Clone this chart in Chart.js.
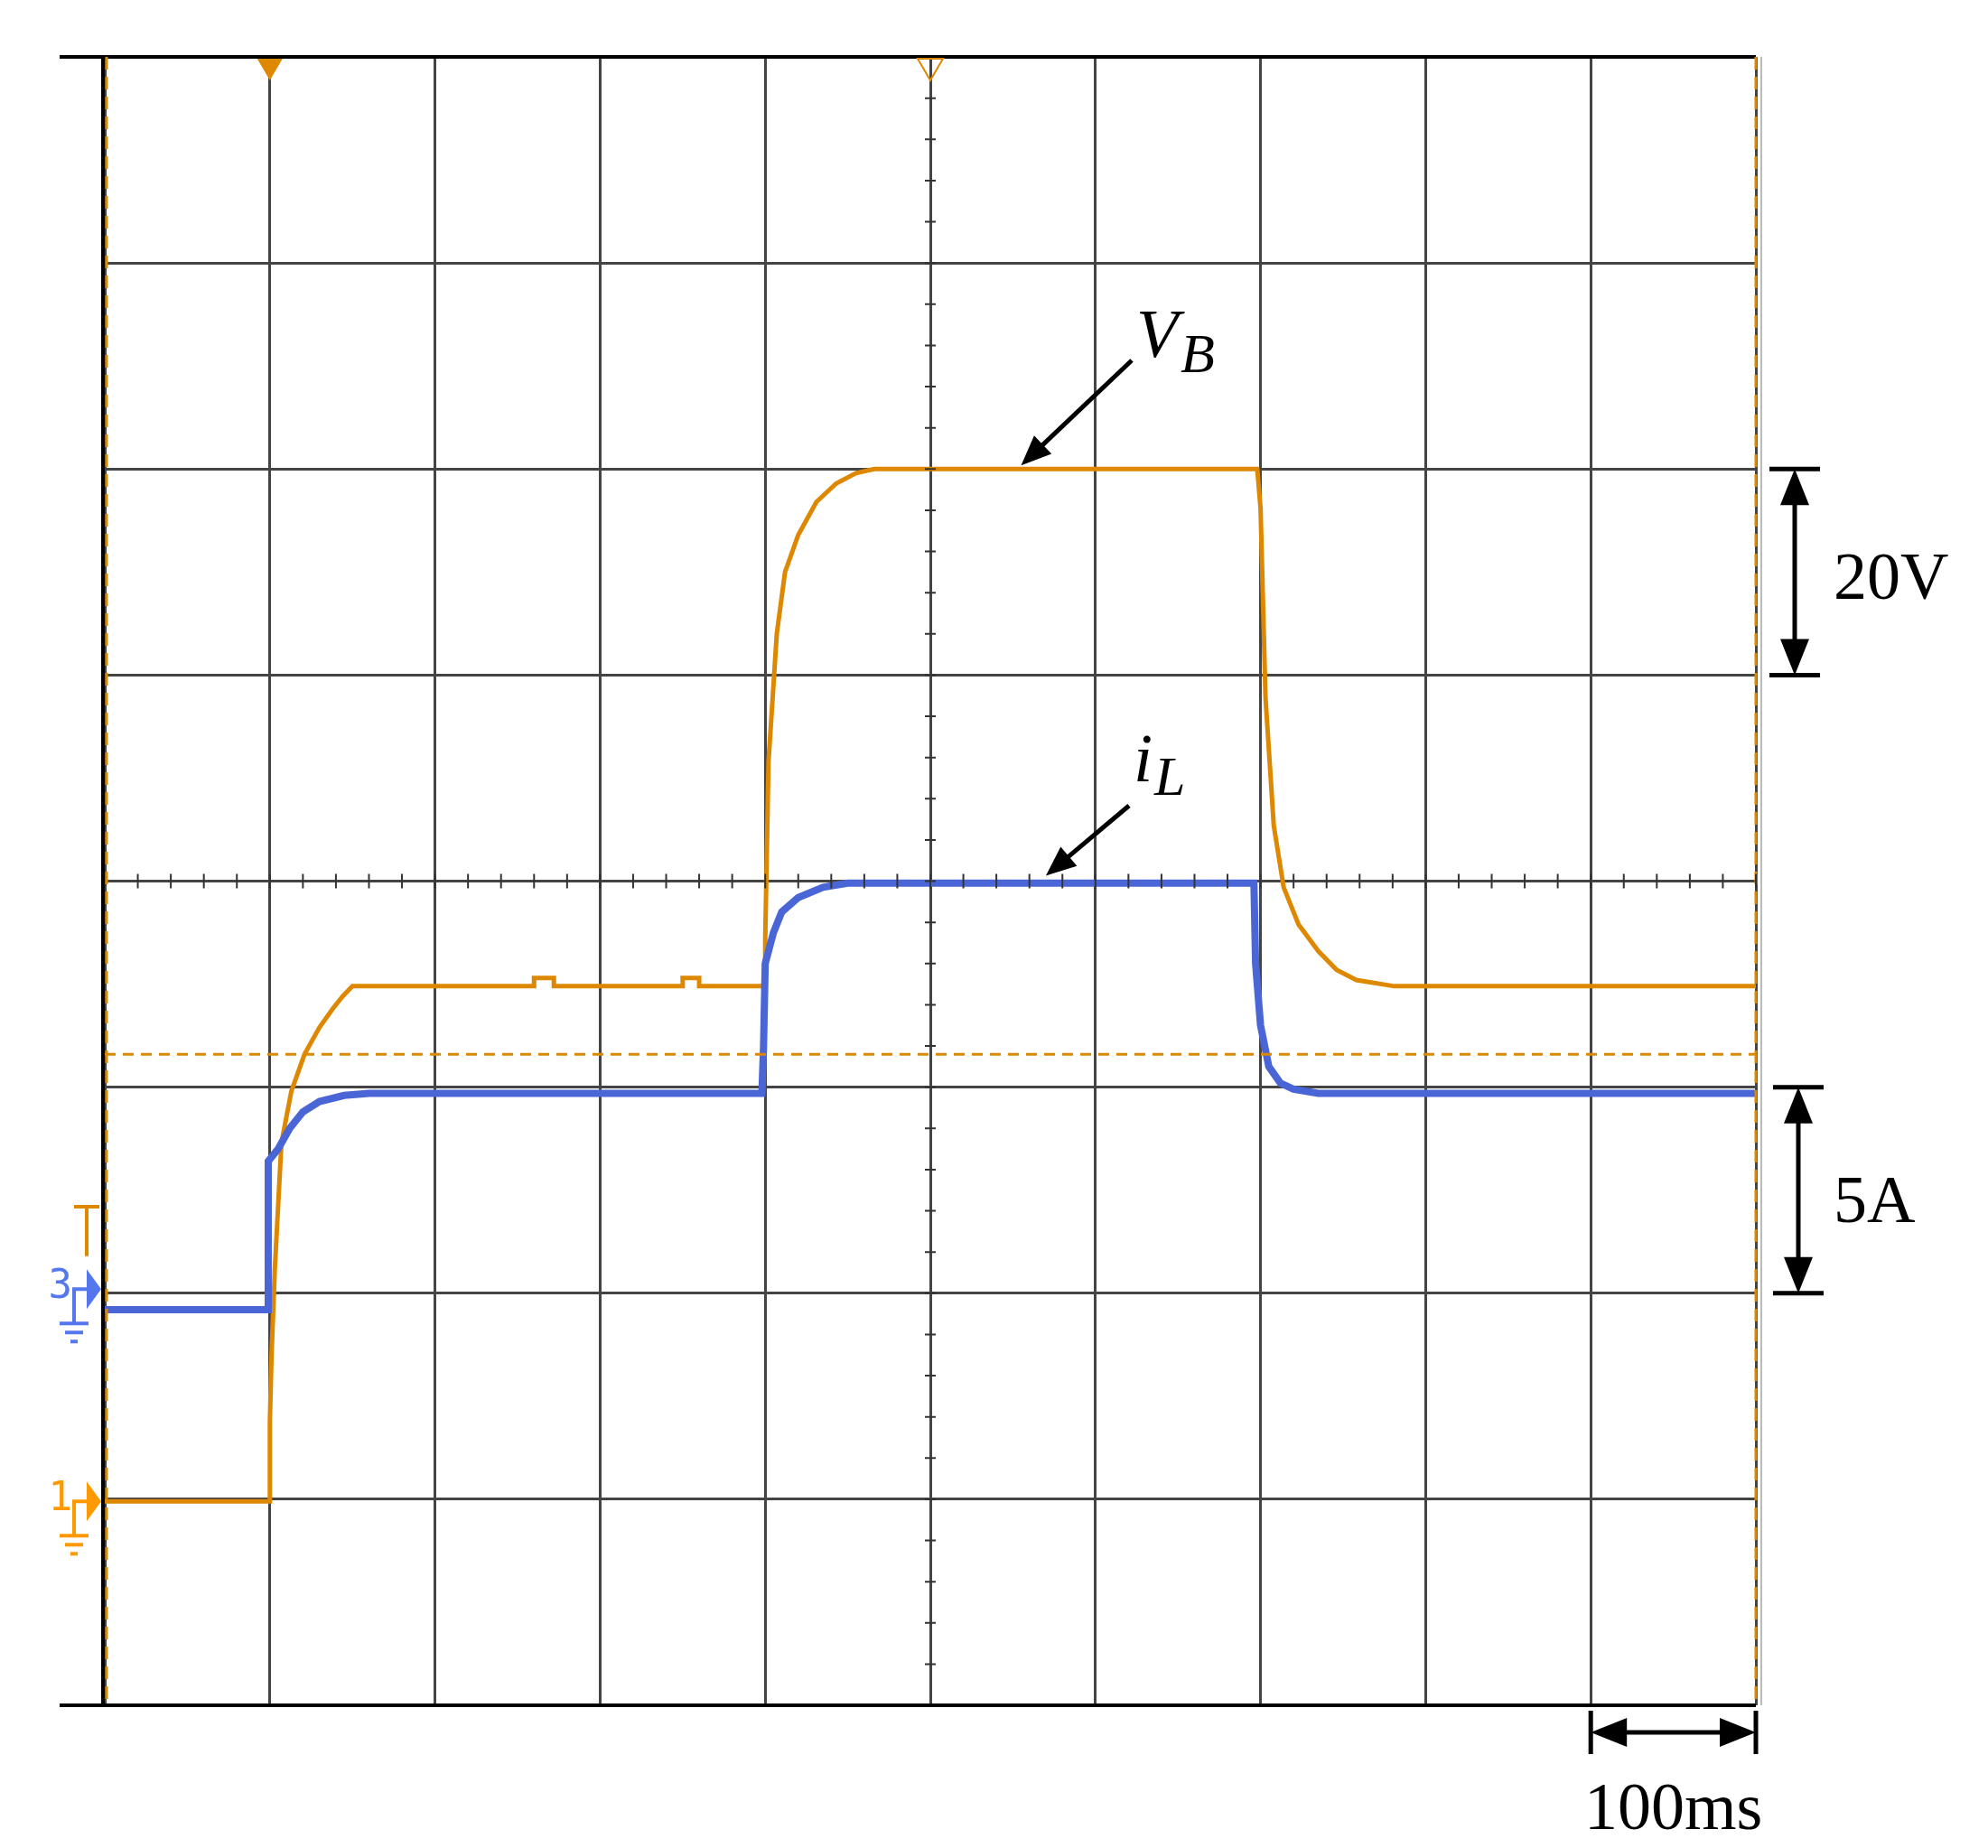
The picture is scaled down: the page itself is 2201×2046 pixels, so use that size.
<!DOCTYPE html>
<html>
<head>
<meta charset="utf-8">
<script src="https://cdn.jsdelivr.net/npm/chart.js@4/dist/chart.umd.min.js"></script>
<style>
  body { margin: 0; background: #fff; }
  #wrap { width: 2201px; height: 2046px; }
</style>
</head>
<body>
<div id="wrap"><canvas id="scope"></canvas></div>
<script>
// time in divisions (100 ms/div), amplitude in divisions from the bottom of the screen
var vbTime = [0, 1.0, 1.0, 1.01, 1.03, 1.07, 1.13, 1.21, 1.3, 1.38, 1.44, 1.5, 2.6, 2.6, 2.72, 2.72, 3.5, 3.5, 3.6, 3.6, 4.0, 4.0,
  4.02, 4.07, 4.12, 4.2, 4.31, 4.43, 4.55, 4.66, 6.98, 7.0, 7.03, 7.08, 7.14, 7.23, 7.35, 7.46, 7.58, 7.81, 10];
var vbLevel = [0.99, 0.99, 1.38, 1.7, 2.12, 2.73, 2.98, 3.16, 3.29, 3.38, 3.44, 3.49, 3.49, 3.53, 3.53, 3.49, 3.49, 3.53, 3.53, 3.49, 3.49, 3.72,
  4.58, 5.2, 5.5, 5.68, 5.84, 5.93, 5.98, 6.0, 6.0, 5.81, 4.89, 4.27, 3.97, 3.79, 3.66, 3.57, 3.52, 3.49, 3.49];

var ilTime = [0, 0.99, 0.99, 1.05, 1.12, 1.2, 1.3, 1.45, 1.6, 3.98, 3.99, 4.0, 4.05, 4.1, 4.2, 4.35, 4.5, 6.96,
  6.97, 7.0, 7.05, 7.12, 7.2, 7.35, 10];
var ilLevel = [1.92, 1.92, 2.64, 2.7, 2.8, 2.88, 2.93, 2.96, 2.97, 2.97, 3.2, 3.6, 3.75, 3.85, 3.92, 3.97, 3.99, 3.99,
  3.6, 3.3, 3.1, 3.02, 2.99, 2.97, 2.97];

var triggerLevel = 3.16;
var xDivs = 10, yDivs = 8;

function pts(xs, ys) { return xs.map(function (x, i) { return { x: x, y: ys[i] }; }); }

var ORANGE = '#dd8800', BLUE = '#4a66d6';

var overlay = {
  id: 'overlay',
  afterDraw: function (chart) {
    var c = chart.ctx, xs = chart.scales.x, ys = chart.scales.y;
    var X = function (v) { return xs.getPixelForValue(v); };
    var Y = function (v) { return ys.getPixelForValue(v); };
    c.save();
    // frame
    c.strokeStyle = '#000'; c.lineWidth = 4;
    c.beginPath();
    c.moveTo(66, Y(8)); c.lineTo(X(10), Y(8));
    c.moveTo(66, Y(0)); c.lineTo(X(10), Y(0));
    c.moveTo(X(0) - 2, Y(8)); c.lineTo(X(0) - 2, Y(0));
    c.stroke();
    c.strokeStyle = '#bbb'; c.lineWidth = 2;
    c.beginPath(); c.moveTo(X(10) + 6, Y(8)); c.lineTo(X(10) + 6, Y(0)); c.stroke();
    // orange dashed edges
    c.strokeStyle = ORANGE; c.lineWidth = 3; c.setLineDash([14, 8]);
    c.beginPath();
    c.moveTo(X(0) + 2, Y(8)); c.lineTo(X(0) + 2, Y(0));
    c.moveTo(X(10), Y(8)); c.lineTo(X(10), Y(0));
    c.stroke();
    c.setLineDash([]);
    // centre minor ticks
    c.strokeStyle = '#333'; c.lineWidth = 2;
    c.beginPath();
    for (var t = 0.2; t < xDivs; t += 0.2) {
      c.moveTo(X(t), Y(4) - 8); c.lineTo(X(t), Y(4) + 8);
    }
    for (var u = 0.2; u < yDivs; u += 0.2) {
      c.moveTo(X(5) - 6, Y(u)); c.lineTo(X(5) + 6, Y(u));
    }
    c.stroke();
    // trigger markers at top
    c.fillStyle = ORANGE; c.strokeStyle = ORANGE; c.lineWidth = 2;
    c.beginPath(); c.moveTo(X(1) - 14, Y(8) + 2); c.lineTo(X(1) + 14, Y(8) + 2); c.lineTo(X(1), Y(8) + 26); c.closePath(); c.fill();
    c.beginPath(); c.moveTo(X(5) - 14, Y(8) + 2); c.lineTo(X(5) + 14, Y(8) + 2); c.lineTo(X(5), Y(8) + 26); c.closePath(); c.stroke();
    // channel markers
    function marker(lv, col, label) {
      var y = Y(lv), x = X(0) - 4;
      c.fillStyle = col; c.strokeStyle = col; c.lineWidth = 4;
      c.beginPath(); c.moveTo(x - 16, y - 22); c.lineTo(x, y); c.lineTo(x - 16, y + 22); c.closePath(); c.fill();
      c.beginPath(); c.moveTo(x - 14, y); c.lineTo(x - 30, y); c.lineTo(x - 30, y + 38);
      c.moveTo(x - 46, y + 38); c.lineTo(x - 14, y + 38);
      c.moveTo(x - 40, y + 48); c.lineTo(x - 20, y + 48);
      c.moveTo(x - 34, y + 58); c.lineTo(x - 26, y + 58);
      c.stroke();
      c.font = '44px "DejaVu Sans Mono"'; c.textAlign = 'right'; c.textBaseline = 'middle';
      c.fillText(label, x - 32, y - 2);
    }
    marker(2.02, '#5577ee', '3');
    marker(0.99, '#ff9900', '1');
    c.strokeStyle = ORANGE; c.lineWidth = 4;
    c.beginPath(); c.moveTo(X(0) - 20, Y(2.18)); c.lineTo(X(0) - 20, Y(2.42));
    c.moveTo(X(0) - 34, Y(2.42)); c.lineTo(X(0) - 6, Y(2.42)); c.stroke();
    // trigger level dashed
    c.strokeStyle = ORANGE; c.lineWidth = 3; c.setLineDash([12, 8]);
    c.beginPath(); c.moveTo(X(0), Y(triggerLevel)); c.lineTo(X(10), Y(triggerLevel)); c.stroke();
    c.setLineDash([]);
    // arrows
    function arrow(x1, y1, x2, y2) {
      c.strokeStyle = '#000'; c.fillStyle = '#000'; c.lineWidth = 5;
      var a = Math.atan2(y2 - y1, x2 - x1), L = 36, w = 0.4;
      c.beginPath(); c.moveTo(x1, y1); c.lineTo(x2 - Math.cos(a) * L * 0.8, y2 - Math.sin(a) * L * 0.8); c.stroke();
      c.beginPath(); c.moveTo(x2, y2);
      c.lineTo(x2 - L * Math.cos(a - w), y2 - L * Math.sin(a - w));
      c.lineTo(x2 - L * Math.cos(a + w), y2 - L * Math.sin(a + w)); c.closePath(); c.fill();
    }
    arrow(1253, 399, X(5.55), Y(6.0) - 4);
    arrow(1250, 892, X(5.7), Y(4.0) - 6);
    // labels
    c.fillStyle = '#000'; c.textAlign = 'left'; c.textBaseline = 'alphabetic';
    c.font = 'italic 76px "Liberation Serif"';
    c.fillText('V', 1258, 395);
    c.fillText('i', 1255, 865);
    c.font = 'italic 62px "Liberation Serif"';
    c.fillText('B', 1307, 412);
    c.fillText('L', 1278, 880);
    // scale bars
    function vbar(x, v1, v2) {
      var y1 = Y(v1), y2 = Y(v2);
      c.strokeStyle = '#000'; c.fillStyle = '#000'; c.lineWidth = 5;
      c.beginPath(); c.moveTo(x - 28, y1); c.lineTo(x + 28, y1); c.moveTo(x - 28, y2); c.lineTo(x + 28, y2);
      c.moveTo(x, y1 + 30); c.lineTo(x, y2 - 30); c.stroke();
      c.beginPath(); c.moveTo(x, y1); c.lineTo(x - 16, y1 + 40); c.lineTo(x + 16, y1 + 40); c.closePath(); c.fill();
      c.beginPath(); c.moveTo(x, y2); c.lineTo(x - 16, y2 - 40); c.lineTo(x + 16, y2 - 40); c.closePath(); c.fill();
    }
    vbar(1987, 6, 5);
    vbar(1991, 3, 2);
    var bx1 = X(9), bx2 = X(10), by = Y(0) + 30;
    c.beginPath(); c.moveTo(bx1, by - 24); c.lineTo(bx1, by + 24); c.moveTo(bx2, by - 24); c.lineTo(bx2, by + 24);
    c.moveTo(bx1 + 30, by); c.lineTo(bx2 - 30, by); c.stroke();
    c.beginPath(); c.moveTo(bx1, by); c.lineTo(bx1 + 40, by - 16); c.lineTo(bx1 + 40, by + 16); c.closePath(); c.fill();
    c.beginPath(); c.moveTo(bx2, by); c.lineTo(bx2 - 40, by - 16); c.lineTo(bx2 - 40, by + 16); c.closePath(); c.fill();
    c.font = '74px "Liberation Serif"';
    c.fillText('20V', 2030, 663);
    c.fillText('5A', 2030, 1353);
    c.textAlign = 'center';
    c.fillText('100ms', X(9.5), 2025);
    c.restore();
  }
};

new Chart(document.getElementById('scope'), {
  type: 'line',
  data: {
    datasets: [
      { label: 'iL', data: pts(ilTime, ilLevel), borderColor: BLUE, borderWidth: 8, pointRadius: 0, tension: 0 },
      { label: 'VB', data: pts(vbTime, vbLevel), borderColor: ORANGE, borderWidth: 5, pointRadius: 0, tension: 0 }
    ]
  },
  options: {
    responsive: true,
    maintainAspectRatio: false,
    animation: false,
    layout: { padding: { left: 116, right: 257, top: 63, bottom: 158 } },
    plugins: { legend: { display: false }, tooltip: { enabled: false } },
    scales: {
      x: {
        type: 'linear', min: 0, max: xDivs,
        ticks: { display: false, stepSize: 1 },
        grid: { color: '#444', lineWidth: 3, drawTicks: false },
        border: { display: false }
      },
      y: {
        type: 'linear', min: 0, max: yDivs,
        ticks: { display: false, stepSize: 1 },
        grid: { color: '#444', lineWidth: 3, drawTicks: false },
        border: { display: false }
      }
    }
  },
  plugins: [overlay]
});
</script>
</body>
</html>
